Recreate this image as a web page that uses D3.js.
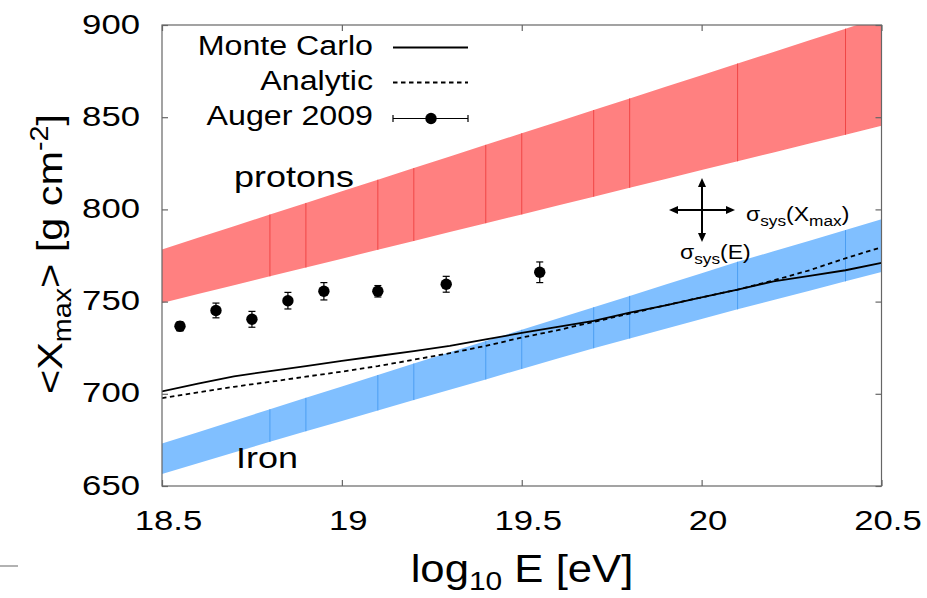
<!DOCTYPE html>
<html>
<head>
<meta charset="utf-8">
<script src="https://cdn.jsdelivr.net/npm/d3@7"></script>
<style>
  body { margin: 0; background: #fff; }
  svg { display: block; }
  text { font-family: "Liberation Sans", Arial, Helvetica, sans-serif; fill: #000; }
</style>
</head>
<body>
<svg id="chart" width="927" height="598"></svg>
<script>
// ---- data ----
const logE = [18.5, 18.6, 18.7, 18.8, 18.9, 19.0, 19.1, 19.2, 19.3, 19.4, 19.5,
              19.6, 19.7, 19.8, 19.9, 20.0, 20.1, 20.2, 20.3, 20.4, 20.5];
const monteCarlo = [701.3, 705.5, 709.5, 712.3, 715.0, 717.8, 720.5, 723.2, 726.0, 729.5, 733.0,
                    736.3, 739.5, 744.0, 748.0, 752.3, 756.5, 761.0, 764.0, 767.0, 771.0];
const analytic   = [697.7, 700.8, 703.8, 706.5, 709.3, 712.0, 715.0, 718.5, 722.0, 726.0, 730.5,
                    734.5, 739.0, 743.5, 748.0, 752.3, 756.5, 761.5, 767.0, 773.5, 779.5];
const protonLow  = [749.3, 754.1, 758.9, 763.7, 768.5, 773.3, 778.1, 782.9, 787.7, 792.5, 797.3,
                    802.1, 806.9, 811.7, 816.5, 821.3, 826.1, 830.9, 835.7, 840.5, 845.3];
const protonHigh = [778.3, 784.6, 790.9, 797.2, 803.5, 809.8, 816.1, 822.4, 828.7, 835.0, 841.3,
                    847.6, 853.9, 860.2, 866.5, 872.8, 879.1, 885.4, 891.7, 898.0, 904.3];
const ironLow    = [656.5, 662.3, 668.2, 674.0, 679.7, 685.3, 691.0, 696.6, 702.2, 707.8, 713.5,
                    719.1, 724.7, 730.0, 735.3, 740.5, 745.8, 750.9, 755.9, 761.0, 766.0];
const ironHigh   = [673.0, 679.2, 685.4, 691.6, 697.8, 704.0, 710.2, 716.4, 722.5, 728.6, 734.7,
                    740.8, 746.9, 753.1, 759.3, 765.4, 771.6, 777.3, 783.0, 788.8, 794.6];
// band segment joins that show as thin darker lines
const seamE = [18.8, 18.9, 19.1, 19.2, 19.4, 19.5, 19.7, 19.8, 20.1, 20.4];

const augerE   = [18.55, 18.65, 18.75, 18.85, 18.95, 19.1, 19.29, 19.55];
const augerX   = [736.6, 745.2, 740.4, 750.5, 755.6, 755.6, 759.4, 765.9];
const augerErr = [2.5, 4.0, 4.3, 4.5, 4.7, 3.1, 4.3, 5.6];

const xTicks = [18.5, 19, 19.5, 20, 20.5];
const xTickLabels = ["18.5", "19", "19.5", "20", "20.5"];
const yTicks = [650, 700, 750, 800, 850, 900];
const yTickLabels = ["650", "700", "750", "800", "850", "900"];

// ---- layout ----
const svg = d3.select("#chart");
const pL = 162, pR = 881.5, pT = 25, pB = 486;
const SX = 1.15;  // horizontal stretch of the lettering
const SXT = 1.24; // stretch used for numbers and band names

const x = d3.scaleLinear().domain([18.5, 20.5]).range([pL, pR]);
const y = d3.scaleLinear().domain([650, 900]).range([pB, pT]);

svg.append("defs").append("clipPath").attr("id", "plotClip")
  .append("rect").attr("x", pL).attr("y", pT)
  .attr("width", pR - pL).attr("height", pB - pT);

const plot = svg.append("g").attr("clip-path", "url(#plotClip)");

function drawBand(lo, hi, fill, seam) {
  const rows = logE.map((e, i) => ({ e, lo: lo[i], hi: hi[i] }));
  const area = d3.area().x(d => x(d.e)).y0(d => y(d.lo)).y1(d => y(d.hi));
  plot.append("path").datum(rows).attr("d", area).attr("fill", fill);
  const idx = d => logE.findIndex(v => Math.abs(v - d) < 1e-6);
  plot.selectAll(null).data(seamE).enter().append("line")
    .attr("x1", d => x(d)).attr("x2", d => x(d))
    .attr("y1", d => y(lo[idx(d)]))
    .attr("y2", d => y(hi[idx(d)]))
    .attr("stroke", seam).attr("stroke-width", 1);
}
drawBand(protonLow, protonHigh, "#ff8080", "#f04646");
drawBand(ironLow, ironHigh, "#80bfff", "#4c9ef2");

// model curves
const curve = d3.line().x((d, i) => x(logE[i])).y(d => y(d));
plot.append("path").datum(monteCarlo).attr("d", curve)
  .attr("fill", "none").attr("stroke", "#000").attr("stroke-width", 1.8);
plot.append("path").datum(analytic).attr("d", curve)
  .attr("fill", "none").attr("stroke", "#000").attr("stroke-width", 1.8)
  .attr("stroke-dasharray", "4.5,3.5");

// Auger 2009 points with error bars
const pts = augerE.map((e, i) => ({ e, v: augerX[i], err: augerErr[i] }));
const pg = plot.append("g").attr("stroke", "#000").attr("stroke-width", 1.2);
pg.selectAll(".bar").data(pts).enter().append("line")
  .attr("x1", d => x(d.e)).attr("x2", d => x(d.e))
  .attr("y1", d => y(d.v - d.err)).attr("y2", d => y(d.v + d.err));
pg.selectAll(".capT").data(pts).enter().append("line")
  .attr("x1", d => x(d.e) - 3.5).attr("x2", d => x(d.e) + 3.5)
  .attr("y1", d => y(d.v + d.err)).attr("y2", d => y(d.v + d.err));
pg.selectAll(".capB").data(pts).enter().append("line")
  .attr("x1", d => x(d.e) - 3.5).attr("x2", d => x(d.e) + 3.5)
  .attr("y1", d => y(d.v - d.err)).attr("y2", d => y(d.v - d.err));
plot.selectAll(".dot").data(pts).enter().append("circle")
  .attr("cx", d => x(d.e)).attr("cy", d => y(d.v)).attr("r", 5.7).attr("fill", "#000");

// ---- frame and ticks (inward on all four sides) ----
const frameColor = "#666";
svg.append("rect").attr("x", pL).attr("y", pT)
  .attr("width", pR - pL).attr("height", pB - pT)
  .attr("fill", "none").attr("stroke", frameColor).attr("stroke-width", 1.2);

const tk = 6;
const axB = svg.append("g").attr("transform", `translate(0,${pB})`)
  .call(d3.axisBottom(x).tickValues(xTicks).tickSize(-tk).tickFormat((d, i) => xTickLabels[i]));
const axT = svg.append("g").attr("transform", `translate(0,${pT})`)
  .call(d3.axisTop(x).tickValues(xTicks).tickSize(-tk).tickFormat(""));
const axL = svg.append("g").attr("transform", `translate(${pL},0)`)
  .call(d3.axisLeft(y).tickValues(yTicks).tickSize(-tk).tickFormat((d, i) => yTickLabels[i]));
const axR = svg.append("g").attr("transform", `translate(${pR},0)`)
  .call(d3.axisRight(y).tickValues(yTicks).tickSize(-tk).tickFormat(""));
[axB, axT, axL, axR].forEach(a => {
  a.select(".domain").remove();
  a.selectAll(".tick line").attr("stroke", frameColor).attr("stroke-width", 1.2);
  a.selectAll(".tick text").remove();
});
// tick labels, stretched like the rest of the lettering
axB.selectAll(".tick").append("text")
  .attr("transform", `translate(6,44) scale(${SXT},1)`)
  .attr("text-anchor", "middle").attr("font-size", 28)
  .text((d, i) => xTickLabels[i]);
axL.selectAll(".tick").append("text")
  .attr("transform", `translate(-22,8) scale(${SXT},1)`)
  .attr("text-anchor", "end").attr("font-size", 28)
  .text((d, i) => yTickLabels[i]);

// ---- axis titles ----
const xt = svg.append("text")
  .attr("transform", `translate(522,582) scale(${SX},1)`)
  .attr("text-anchor", "middle").attr("font-size", 38);
xt.append("tspan").text("log");
xt.append("tspan").attr("font-size", 26).attr("dy", 8).text("10");
xt.append("tspan").attr("dy", -8).text(" E [eV]");

const yt = svg.append("text")
  .attr("transform", `translate(62,254) rotate(-90) scale(${SX},1)`)
  .attr("text-anchor", "middle").attr("font-size", 36);
yt.append("tspan").text("<X");
yt.append("tspan").attr("font-size", 25).attr("dy", 9).text("max");
yt.append("tspan").attr("dy", -9).text("> [g cm");
yt.append("tspan").attr("font-size", 25).attr("dy", -14).text("-2");
yt.append("tspan").attr("dy", 14).text("]");

// ---- legend ----
const lg = svg.append("g");
const legRows = [
  { label: "Monte Carlo", base: 55, lineY: 47.5, kind: "solid" },
  { label: "Analytic", base: 90, lineY: 82.5, kind: "dash" },
  { label: "Auger 2009", base: 125, lineY: 118.5, kind: "pt" }
];
legRows.forEach(r => {
  lg.append("text").attr("transform", `translate(373,${r.base}) scale(${SX},1)`)
    .attr("text-anchor", "end").attr("font-size", 28).text(r.label);
  const ln = lg.append("line").attr("x1", 393).attr("x2", 468)
    .attr("y1", r.lineY).attr("y2", r.lineY).attr("stroke", "#000")
    .attr("stroke-width", r.kind === "pt" ? 1.2 : 1.8);
  if (r.kind === "dash") ln.attr("stroke-dasharray", "4.5,3.5");
  if (r.kind === "pt") {
    [393, 468].forEach(cx => lg.append("line").attr("x1", cx).attr("x2", cx)
      .attr("y1", r.lineY - 3.5).attr("y2", r.lineY + 3.5).attr("stroke", "#000").attr("stroke-width", 1.2));
    lg.append("circle").attr("cx", 431).attr("cy", r.lineY).attr("r", 5.7).attr("fill", "#000");
  }
});

// ---- band labels ----
svg.append("text").attr("transform", `translate(234,187) scale(${SXT},1)`)
  .attr("font-size", 29).text("protons");
svg.append("text").attr("transform", `translate(236,468) scale(${SXT},1)`)
  .attr("font-size", 29).text("Iron");

// ---- systematic uncertainty cross ----
const cx = 702, cy = 210, ah = 9, aw = 4;
const cross = svg.append("g");
cross.append("line").attr("x1", 669 + ah - 1).attr("x2", 735 - ah + 1).attr("y1", cy).attr("y2", cy)
  .attr("stroke", "#000").attr("stroke-width", 2);
cross.append("line").attr("x1", cx).attr("x2", cx).attr("y1", 178 + ah - 1).attr("y2", 242 - ah + 1)
  .attr("stroke", "#000").attr("stroke-width", 2);
const tri = [
  [[669, cy], [669 + ah, cy - aw], [669 + ah, cy + aw]],
  [[735, cy], [735 - ah, cy - aw], [735 - ah, cy + aw]],
  [[cx, 178], [cx - aw, 178 + ah], [cx + aw, 178 + ah]],
  [[cx, 242], [cx - aw, 242 - ah], [cx + aw, 242 - ah]]
];
cross.selectAll("path").data(tri).enter().append("path")
  .attr("d", d => "M" + d.map(p => p.join(",")).join("L") + "Z").attr("fill", "#000");

const s1 = svg.append("text").attr("transform", `translate(746,221) scale(${SX},1)`).attr("font-size", 20);
s1.append("tspan").text("σ");
s1.append("tspan").attr("font-size", 15).attr("dy", 5).text("sys");
s1.append("tspan").attr("dy", -5).text("(X");
s1.append("tspan").attr("font-size", 15).attr("dy", 5).text("max");
s1.append("tspan").attr("dy", -5).text(")");

const s2 = svg.append("text").attr("transform", `translate(680,259) scale(${SX},1)`).attr("font-size", 20);
s2.append("tspan").text("σ");
s2.append("tspan").attr("font-size", 15).attr("dy", 5).text("sys");
s2.append("tspan").attr("dy", -5).text("(E)");

// small stray mark at the lower left edge
svg.append("line").attr("x1", 0).attr("x2", 18).attr("y1", 566).attr("y2", 566)
  .attr("stroke", "#999").attr("stroke-width", 1.5);
</script>
</body>
</html>
